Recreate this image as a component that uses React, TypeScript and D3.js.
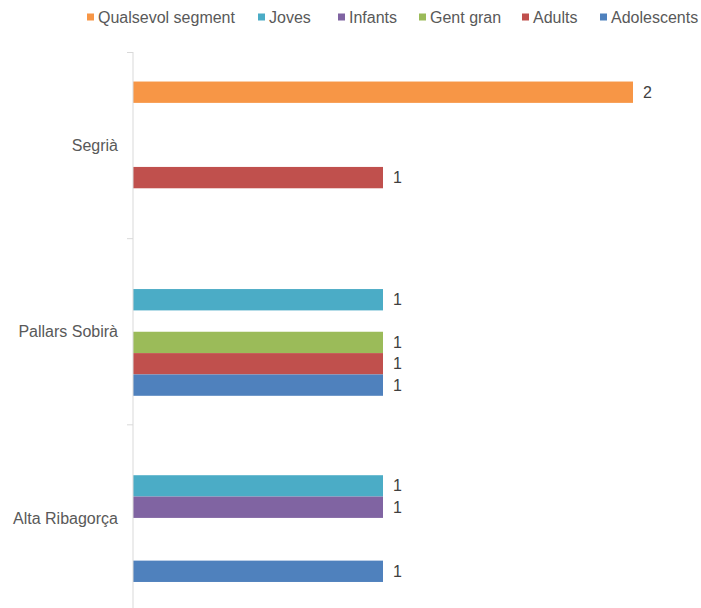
import React from "react";
import * as d3 from "d3";

const categories = ["Segrià", "Pallars Sobirà", "Alta Ribagorça"];
const seriesNames = ["Qualsevol segment", "Joves", "Infants", "Gent gran", "Adults", "Adolescents"];
const qualsevolSegment = [2, 0, 0];
const joves = [0, 1, 1];
const infants = [0, 0, 1];
const gentGran = [0, 1, 0];
const adults = [1, 1, 0];
const adolescents = [0, 1, 1];
const seriesValues = [qualsevolSegment, joves, infants, gentGran, adults, adolescents];
const colors = ["#F79646", "#4BACC6", "#8064A2", "#9BBB59", "#C0504D", "#4F81BD"];
const legendX = [87, 258, 338, 419, 522, 600];

const W = 701;
const H = 608;
const FONT = "'Liberation Sans', Arial, sans-serif";

export default function App() {
  const y = d3.scaleBand<string>().domain(categories).range([52.5, 611]).paddingInner(0).paddingOuter(0);
  const inner = d3
    .scaleBand<string>()
    .domain(seriesNames)
    .range([0, y.bandwidth()])
    .paddingInner(0)
    .paddingOuter(1.36);
  const x = d3.scaleLinear().domain([0, 2]).range([133, 633]);
  const boundaries = [...categories.map((c) => y(c) as number), 611];

  return (
    <svg
      width={W}
      height={H}
      style={{ position: "absolute", left: 0, top: 0, background: "#fff" }}
      fontFamily={FONT}
    >
      {/* legend */}
      {seriesNames.map((s, i) => (
        <g key={s} transform={`translate(${legendX[i]},17)`}>
          <rect x={0} y={-3.5} width={7} height={7} fill={colors[i]} />
          <text x={11} dy="0.35em" fontSize={16} fill="#595959">
            {s}
          </text>
        </g>
      ))}
      {/* bars */}
      {categories.map((c, ci) => (
        <g key={c} transform={`translate(0,${y(c)})`}>
          {seriesNames.map((s, si) => {
            const v = seriesValues[si][ci];
            if (!v) return null;
            const yy = inner(s) as number;
            return (
              <g key={s}>
                <rect x={x(0)} y={yy} width={x(v) - x(0)} height={inner.bandwidth()} fill={colors[si]} />
                <text
                  x={x(v) + 10}
                  y={yy + inner.bandwidth() / 2}
                  dy="0.35em"
                  fontSize={16}
                  fill="#404040"
                >
                  {v}
                </text>
              </g>
            );
          })}
        </g>
      ))}
      {/* axis */}
      <line x1={133} x2={133} y1={52} y2={611} stroke="#D9D9D9" strokeWidth={1} />
      {boundaries.map((b, i) => (
        <line key={i} x1={127} x2={133} y1={b} y2={b} stroke="#D9D9D9" strokeWidth={1} />
      ))}
      {categories.map((c) => (
        <text
          key={c}
          x={118}
          y={(y(c) as number) + y.bandwidth() / 2}
          dy="0.35em"
          textAnchor="end"
          fontSize={16}
          fill="#595959"
        >
          {c}
        </text>
      ))}
    </svg>
  );
}
